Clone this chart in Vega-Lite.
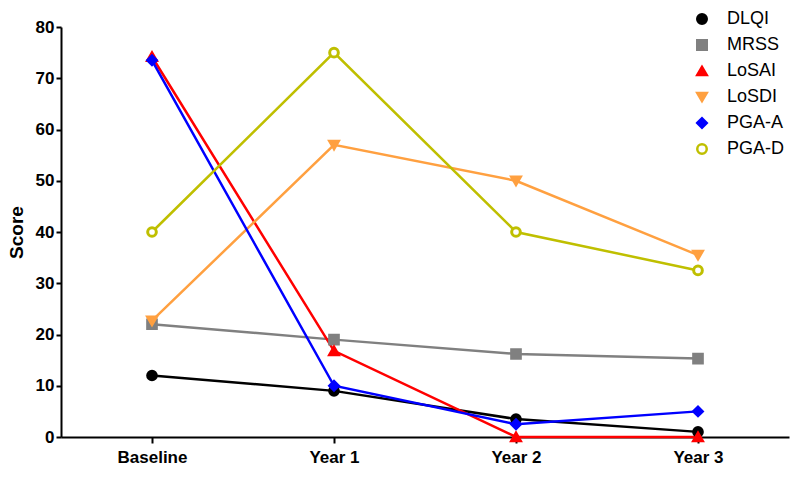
{
  "$schema": "https://vega.github.io/schema/vega-lite/v6.json",
  "width": 728,
  "height": 410,
  "autosize": {"type": "none"},
  "padding": {"left": 61, "top": 27, "right": 11, "bottom": 41},
  "background": "white",
  "config": {
    "view": {"stroke": null},
    "font": "Liberation Sans",
    "axis": {"grid": false, "domainColor": "black", "tickColor": "black", "domainWidth": 2, "tickWidth": 2, "labelColor": "black", "titleColor": "black"}
  },
  "data": {
    "values": [
      {"series": "DLQI", "time": "Baseline", "score": 12},
      {"series": "DLQI", "time": "Year 1", "score": 9},
      {"series": "DLQI", "time": "Year 2", "score": 3.5},
      {"series": "DLQI", "time": "Year 3", "score": 1},
      {"series": "MRSS", "time": "Baseline", "score": 22},
      {"series": "MRSS", "time": "Year 1", "score": 19},
      {"series": "MRSS", "time": "Year 2", "score": 16.2},
      {"series": "MRSS", "time": "Year 3", "score": 15.3},
      {"series": "LoSAI", "time": "Baseline", "score": 74.2},
      {"series": "LoSAI", "time": "Year 1", "score": 16.8},
      {"series": "LoSAI", "time": "Year 2", "score": 0},
      {"series": "LoSAI", "time": "Year 3", "score": 0},
      {"series": "LoSDI", "time": "Baseline", "score": 22.7},
      {"series": "LoSDI", "time": "Year 1", "score": 57},
      {"series": "LoSDI", "time": "Year 2", "score": 50},
      {"series": "LoSDI", "time": "Year 3", "score": 35.5},
      {"series": "PGA-A", "time": "Baseline", "score": 73.5},
      {"series": "PGA-A", "time": "Year 1", "score": 10},
      {"series": "PGA-A", "time": "Year 2", "score": 2.5},
      {"series": "PGA-A", "time": "Year 3", "score": 5},
      {"series": "PGA-D", "time": "Baseline", "score": 40},
      {"series": "PGA-D", "time": "Year 1", "score": 75},
      {"series": "PGA-D", "time": "Year 2", "score": 40},
      {"series": "PGA-D", "time": "Year 3", "score": 32.5}
    ]
  },
  "encoding": {
    "x": {
      "field": "time", "type": "ordinal", "sort": ["Baseline", "Year 1", "Year 2", "Year 3"],
      "scale": {"type": "point", "padding": 0.5},
      "axis": {"title": null, "labelAngle": 0, "labelFontSize": 17, "labelFontWeight": "bold", "tickSize": 6, "labelPadding": 6}
    },
    "y": {
      "field": "score", "type": "quantitative",
      "scale": {"domain": [0, 80], "nice": false},
      "axis": {"title": "Score", "values": [0,10,20,30,40,50,60,70,80], "titleFontSize": 19, "titleFontWeight": "bold", "labelFontSize": 17, "labelFontWeight": "bold", "tickSize": 5, "labelPadding": 2, "titlePadding": 9}
    },
    "stroke": {
      "field": "series", "type": "nominal", "sort": ["DLQI", "MRSS", "LoSAI", "LoSDI", "PGA-A", "PGA-D"],
      "scale": {"domain": ["DLQI", "MRSS", "LoSAI", "LoSDI", "PGA-A", "PGA-D"], "range": ["#000000", "#808080", "#ff0000", "#ffa040", "#0000ff", "#bfbf00"]},
      "legend": {"title": null, "orient": "none", "legendX": 632, "legendY": -17, "labelFontSize": 18, "symbolSize": 90, "symbolStrokeWidth": 2.5, "rowPadding": 6, "labelOffset": 16, "labelColor": "black"}
    }
  },
  "layer": [
    {"mark": {"type": "line", "strokeWidth": 2.5}},
    {
      "mark": {"type": "point", "filled": false, "strokeWidth": 3, "size": 75, "opacity": 1},
      "encoding": {
        "shape": {
          "field": "series", "type": "nominal", "sort": ["DLQI", "MRSS", "LoSAI", "LoSDI", "PGA-A", "PGA-D"],
          "scale": {"domain": ["DLQI", "MRSS", "LoSAI", "LoSDI", "PGA-A", "PGA-D"], "range": ["circle", "square", "triangle-up", "triangle-down", "diamond", "circle"]},
          "legend": {"title": null, "orient": "none", "legendX": 632, "legendY": -17, "labelFontSize": 18, "symbolSize": 90, "symbolStrokeWidth": 2.5, "rowPadding": 6, "labelOffset": 16, "labelColor": "black"}
        },
        "fill": {
          "field": "series", "type": "nominal", "sort": ["DLQI", "MRSS", "LoSAI", "LoSDI", "PGA-A", "PGA-D"],
          "scale": {"domain": ["DLQI", "MRSS", "LoSAI", "LoSDI", "PGA-A", "PGA-D"], "range": ["#000000", "#808080", "#ff0000", "#ffa040", "#0000ff", "#ffffff"]},
          "legend": {"title": null, "orient": "none", "legendX": 632, "legendY": -17, "labelFontSize": 18, "symbolSize": 90, "symbolStrokeWidth": 2.5, "rowPadding": 6, "labelOffset": 16, "labelColor": "black"}
        }
      }
    }
  ]
}
